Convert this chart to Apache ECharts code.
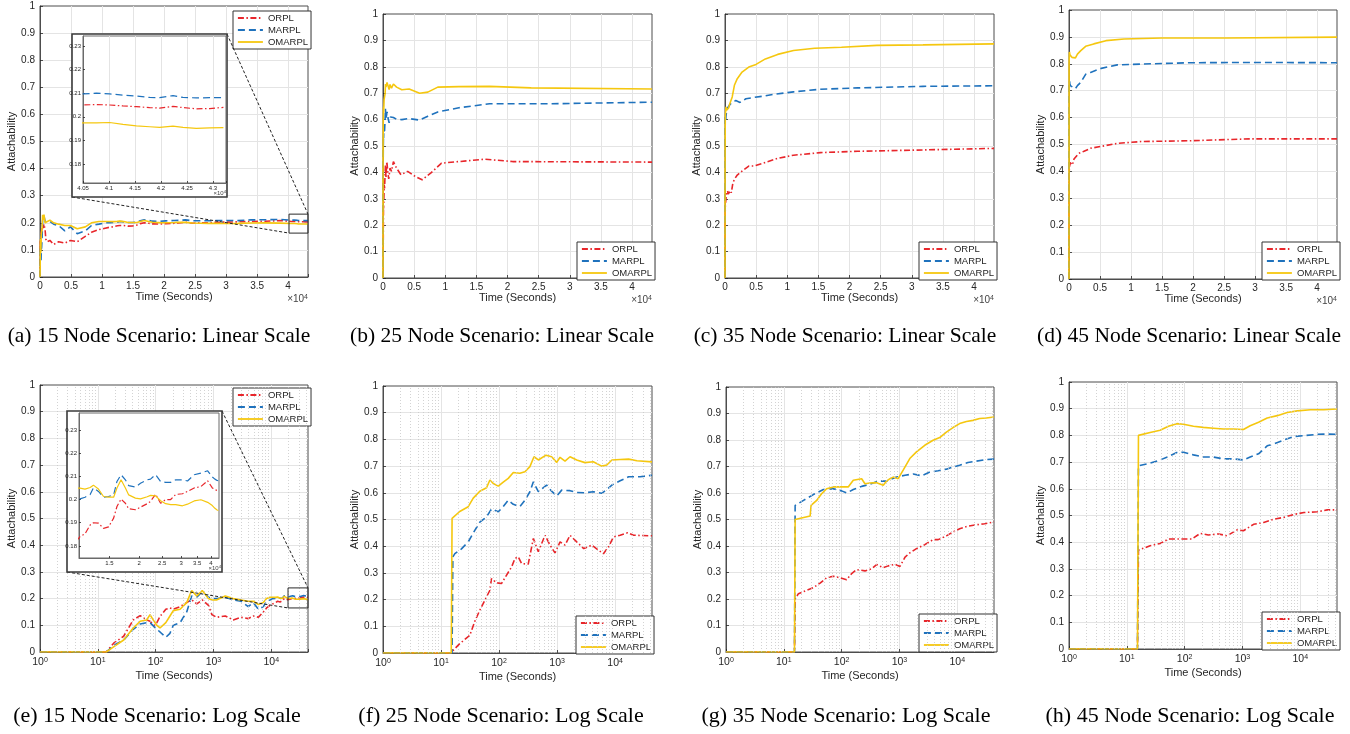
<!DOCTYPE html>
<html><head><meta charset="utf-8">
<script src="https://cdn.jsdelivr.net/npm/echarts@6/dist/echarts.min.js"></script>
<style>html,body{margin:0;padding:0;background:#fff}#c{width:1350px;height:734px}</style>
</head><body><div id="c"></div>
<script>
// ================= DATA =================
const SERIES_NAMES = ['ORPL', 'MARPL', 'OMARPL'];
const CAPTIONS = [
  '(a) 15 Node Scenario: Linear Scale', '(b) 25 Node Scenario: Linear Scale',
  '(c) 35 Node Scenario: Linear Scale', '(d) 45 Node Scenario: Linear Scale',
  '(e) 15 Node Scenario: Log Scale', '(f) 25 Node Scenario: Log Scale',
  '(g) 35 Node Scenario: Log Scale', '(h) 45 Node Scenario: Log Scale'
];
const Y_TICKS = [0, 0.1, 0.2, 0.3, 0.4, 0.5, 0.6, 0.7, 0.8, 0.9, 1];
const INSET_Y_TICKS = [0.18, 0.19, 0.2, 0.21, 0.22, 0.23];
const INSET_A_X_TICKS = [40500, 41000, 41500, 42000, 42500, 43000];
const INSET_E_X_TICKS = [15000, 20000, 25000, 30000, 35000, 40000];

// 15 nodes (shared time axis, seconds)
const T15 = [1, 14, 19, 28, 41, 54, 70, 80, 94, 105, 119, 150, 177, 202, 265, 345, 420, 514, 640, 820,
  940, 1130, 1600, 2200, 3000, 4000, 4900, 6000, 7300, 8300, 9500, 10500,
  11310, 11870, 12470, 12870, 13510, 14190, 14890, 15640, 16150, 16800, 17520, 18090, 19290, 20260,
  21620, 22320, 23440, 24600, 25830, 27110, 28460, 30370, 31890, 34000, 36290, 38720,
  40500, 40756, 41013, 41269, 41526, 41782, 41974, 42231, 42423, 42679, 42936, 43200];
const ORPL15 = [0, 0, .034, .059, .12, .136, .12, .115, .10, .11, .133, .16, .165, .16, .17, .185, .196, .18, .195, .175,
  .14, .13, .135, .12, .13, .125, .135, .13, .15, .165, .175, .18,
  .184, .1852, .189, .19, .1898, .1876, .1882, .192, .197, .2002, .1984, .196, .1956, .1967,
  .1982, .1992, .2023, .1984, .2, .2, .2022, .2025, .2035, .205, .2056, .2081,
  .205, .2052, .205, .2046, .2043, .2039, .2037, .2044, .2039, .2034, .2035, .204];
const MARPL15 = [0, 0, .025, .045, .085, .105, .11, .11, .095, .085, .075, .055, .07, .10, .11, .15, .21, .205, .225, .205,
  .20, .20, .205, .195, .19, .17, .185, .16, .17, .19, .195, .20,
  .2003, .201, .2022, .205, .2035, .201, .2013, .202, .2078, .2107, .2085, .206, .2054, .207,
  .2085, .2088, .2107, .2078, .2074, .2074, .2085, .2085, .208, .2107, .2114, .2124,
  .2097, .21, .2097, .2092, .2088, .2082, .2081, .209, .2082, .208, .2081, .2081];
const OMARPL15 = [0, 0, .02, .045, .09, .115, .12, .14, .115, .10, .09, .11, .135, .155, .16, .185, .23, .21, .23, .20,
  .195, .195, .21, .20, .195, .19, .19, .178, .185, .20, .205, .205,
  .2049, .2045, .2052, .2062, .2045, .2013, .201, .201, .205, .2085, .205, .202, .2006, .2003,
  .2012, .2018, .2016, .1995, .1982, .1978, .1978, .1973, .198, .1994, .1999, .1988,
  .1974, .1974, .1976, .1968, .1962, .1958, .1955, .1961, .1955, .1951, .1953, .1954];

// 25 nodes
const T25_ORPL = [1, 15, 16.2, 21, 31.3, 38.4, 46.6, 57, 69.5, 74, 90.5, 110, 134, 165, 188, 214, 245, 318, 390, 475,
  620, 755, 920, 1125, 1370, 1670, 2180, 2880, 3960, 5170, 6290, 7700, 9400, 12200, 16400, 20800, 43200];
const ORPL25 = [0, 0, .01, .035, .066, .12, .16, .198, .235, .279, .263, .26, .291, .323, .354, .36, .335, .333, .429, .379,
  .441, .404, .375, .416, .404, .441, .416, .391, .404, .385, .372, .398, .435, .441, .45, .441, .439];
const T25_MARPL = [1, 15.5, 16, 17.3, 22.5, 29.4, 38.4, 46.6, 60.9, 74, 97, 118, 144, 176, 228, 279, 340, 390, 475,
  660, 805, 985, 1200, 1670, 2180, 3020, 4200, 5880, 7200, 8800, 12200, 17100, 27000, 43200];
const MARPL25 = [0, 0, .36, .372, .39, .416, .46, .49, .51, .539, .529, .548, .572, .557, .548, .572, .604, .641, .604,
  .629, .606, .588, .61, .608, .601, .60, .604, .598, .613, .629, .645, .66, .66, .666];
const T25_OMARPL = [1, 15, 15.5, 16.2, 21, 29.4, 35.9, 46.6, 60.9, 69.5, 79.4, 97, 118, 144, 176, 228, 279, 340, 400, 475,
  645, 805, 985, 1125, 1370, 1670, 2180, 3020, 4200, 5880, 7200, 8800, 12200, 17100, 23800, 43200];
const OMARPL25 = [0, 0, .504, .51, .53, .548, .58, .606, .619, .648, .635, .625, .64, .654, .676, .673, .679, .698, .735, .723,
  .741, .735, .714, .733, .719, .735, .723, .713, .716, .70, .704, .723, .725, .726, .72, .716];

// 35 nodes
const T35_ORPL = [1, 15.3, 15.7, 17.9, 25, 32.4, 42.4, 55, 72, 94, 122, 149, 182, 253, 330, 403, 525, 640, 835, 1020,
  1250, 1510, 1970, 2740, 3820, 4680, 6490, 8460, 11000, 15300, 21300, 29700, 43200];
const ORPL35 = [0, 0, .2, .22, .233, .243, .26, .28, .286, .28, .273, .296, .311, .306, .314, .33, .318, .325, .331, .323,
  .358, .374, .39, .405, .424, .424, .438, .453, .465, .475, .48, .484, .491];
const T35_MARPL = [1, 15.3, 15.7, 21.9, 32.4, 48.4, 72, 100, 122, 159, 222, 309, 430, 600, 890, 1250, 1730, 2410, 3360,
  4680, 6490, 7900, 11000, 15300, 21300, 31800, 43200];
const MARPL35 = [0, 0, .553, .572, .594, .613, .616, .608, .60, .613, .625, .633, .645, .645, .66, .667, .672, .665, .679,
  .684, .69, .696, .705, .715, .72, .726, .728];
const T35_OMARPL = [1, 15.3, 15.7, 28.5, 29.6, 37, 45, 55, 72, 94, 130, 159, 222, 253, 309, 403, 525, 600, 685, 780,
  950, 1160, 1510, 1970, 2740, 3820, 4980, 6490, 8460, 11000, 14400, 18700, 24400, 31800, 43200];
const OMARPL35 = [0, 0, .5, .513, .553, .572, .597, .616, .623, .623, .623, .648, .654, .635, .638, .639, .629, .645, .654, .66,
  .654, .686, .73, .755, .78, .799, .809, .83, .847, .862, .87, .874, .881, .883, .887];

// 45 nodes
const T45_ORPL = [1, 15.3, 15.9, 25.3, 37.7, 52.5, 83.8, 133, 186, 257, 385, 540, 806, 1040, 1560, 2330, 3480, 5200,
  7770, 11600, 19600, 29200, 43200];
const ORPL45 = [0, 0, .37, .387, .395, .412, .412, .412, .433, .427, .431, .424, .446, .443, .467, .474, .486, .493,
  .504, .511, .514, .521, .521];
const T45_MARPL = [1, 15.3, 15.9, 25.3, 37.7, 52.5, 73.3, 95.5, 142, 211, 315, 469, 700, 1040, 1360, 1900, 2680, 3480,
  5200, 7770, 11600, 19600, 29200, 43200];
const MARPL45 = [0, 0, .686, .696, .708, .721, .736, .737, .727, .719, .719, .712, .712, .708, .719, .731, .761, .768,
  .783, .796, .799, .804, .805, .804];
const T45_OMARPL = [1, 15.3, 15.9, 25.3, 37.7, 52.5, 73.3, 95.5, 142, 211, 315, 469, 700, 1040, 1360, 1900, 2680, 3990,
  5950, 8870, 15000, 25400, 43200];
const OMARPL45 = [0, 0, .80, .811, .819, .834, .844, .842, .834, .83, .827, .824, .824, .822, .836, .849, .865, .874,
  .886, .892, .896, .896, .899];

// zoom boxes on the main plots (data coords)
const BOX_A_X = [40140, 43200], BOX_A_Y = [0.162, 0.232];
const BOX_E_X = [19500, 43200], BOX_E_Y = [0.165, 0.24];

// ================= STYLE / LAYOUT =================
const FONT = '"Liberation Sans", Arial, Helvetica, sans-serif';
const TXT = '#262626';
const STYLE = {
  ORPL: { color: '#e8262b', dash: [6, 2.5, 1.5, 2.5] },
  MARPL: { color: '#1f72bd', dash: [7, 4] },
  OMARPL: { color: '#f5c70f', dash: 'solid' }
};
const SCEN = [
  { ORPL: [T15, ORPL15], MARPL: [T15, MARPL15], OMARPL: [T15, OMARPL15] },
  { ORPL: [T25_ORPL, ORPL25], MARPL: [T25_MARPL, MARPL25], OMARPL: [T25_OMARPL, OMARPL25] },
  { ORPL: [T35_ORPL, ORPL35], MARPL: [T35_MARPL, MARPL35], OMARPL: [T35_OMARPL, OMARPL35] },
  { ORPL: [T45_ORPL, ORPL45], MARPL: [T45_MARPL, MARPL45], OMARPL: [T45_OMARPL, OMARPL45] }
];
const PANELS = [
  { box: [40, 6, 308, 277], log: false, sc: 0, leg: [233, 11], cap: [159, 336] },
  { box: [383, 14, 652, 278], log: false, sc: 1, leg: [577, 242], cap: [502, 336] },
  { box: [725, 14, 994, 278], log: false, sc: 2, leg: [919, 242], cap: [845, 336] },
  { box: [1069, 10, 1337, 279], log: false, sc: 3, leg: [1262, 242], cap: [1189, 336] },
  { box: [40, 385, 308, 652], log: true, sc: 0, leg: [233, 388], cap: [157, 716] },
  { box: [383, 386, 652, 653], log: true, sc: 1, leg: [576, 616], cap: [501, 716] },
  { box: [726, 387, 994, 652], log: true, sc: 2, leg: [919, 614], cap: [846, 716] },
  { box: [1069, 382, 1337, 649], log: true, sc: 3, leg: [1262, 612], cap: [1190, 716] }
];
const INSETS = [
  { main: 0, box: [83, 36, 226, 183], frame: [72, 34, 227, 197], log: false, xmin: 40500, xmax: 43250, ymin: 0.172, ymax: 0.2342 },
  { main: 4, box: [79, 413, 219, 558], frame: [67, 411, 222, 572], log: true, xmin: 11200, xmax: 43200, ymin: 0.1748, ymax: 0.2373 }
];

const zip = (t, v) => t.map((x, i) => [x, v[i]]);
const MINOR_LOG = [];
for (let d = 0; d <= 4; d++) for (let k = 2; k <= 9; k++) { const v = k * Math.pow(10, d); if (v < 43200) MINOR_LOG.push(v); }
const INSET_E_MINOR = [];
for (let v = 12000; v <= 43000; v += 1000) if (v % 5000 !== 0) INSET_E_MINOR.push(v);

const option = { animation: false, backgroundColor: '#fff', grid: [], xAxis: [], yAxis: [], series: [], legend: [], graphic: { elements: [] } };
const G = option.graphic.elements;

function tickStyle(len) { return { show: true, inside: true, length: len, lineStyle: { color: TXT, width: 0.8 } }; }
function lineSeries(name, gi, pts, extra) {
  const st = STYLE[name];
  return Object.assign({
    type: 'line', name, xAxisIndex: gi, yAxisIndex: gi, data: pts, symbol: 'none', showSymbol: false,
    lineStyle: { color: st.color, width: 1.6, type: st.dash }, itemStyle: { color: st.color },
    emphasis: { disabled: true }, z: 3
  }, extra || {});
}
function supText(id, x, y, base, sup, fs, extra) {
  return Object.assign({
    type: 'text', id, x, y, silent: true,
    style: { text: '{a|' + base + '}{s|' + sup + '}', align: 'right', verticalAlign: 'middle',
      rich: { a: { fontSize: fs, fontFamily: FONT, fill: '#444', verticalAlign: 'bottom' },
              s: { fontSize: fs * 0.7, fontFamily: FONT, fill: '#444', verticalAlign: 'top' } } }
  }, extra || {});
}

PANELS.forEach((p, i) => {
  const [l, t, r, b] = p.box;
  option.grid.push({ left: l, top: t, width: r - l, height: b - t, show: true, borderColor: '#4d4d4d', borderWidth: 1,
    backgroundColor: 'rgba(0,0,0,0)', containLabel: false, outerBoundsMode: 'none' });
  const xa = {
    gridIndex: i, min: p.log ? 1 : 0, max: 43200,
    axisLine: { show: true, onZero: false, lineStyle: { color: '#4d4d4d', width: 1 } },
    axisTick: tickStyle(3),
    splitLine: { show: true, showMinLine: false, showMaxLine: false, lineStyle: { color: '#e4e4e4', width: 1 } },
    name: 'Time (Seconds)', nameLocation: 'middle', nameGap: p.log ? 18 : 13,
    nameTextStyle: { fontSize: 11, color: TXT, fontFamily: FONT }
  };
  if (p.log) {
    Object.assign(xa, { type: 'log', logBase: 10, splitNumber: 5,
      axisLabel: { margin: 5, color: TXT, fontFamily: FONT,
        formatter: v => { const e = Math.log10(v), rr = Math.round(e); return Math.abs(e - rr) < 1e-6 ? '{b|10}{s|' + rr + '}' : ''; },
        rich: { b: { fontSize: 10.5, color: TXT, fontFamily: FONT, verticalAlign: 'bottom' },
                s: { fontSize: 7, color: TXT, fontFamily: FONT, verticalAlign: 'top' } } } });
  } else {
    Object.assign(xa, { type: 'value', interval: 5000,
      axisLabel: { margin: 4, fontSize: 10, color: TXT, fontFamily: FONT,
        formatter: v => (v % 5000 === 0 ? String(v / 1e4) : '') } });
    G.push(supText('exp' + i, r, b + 22, '×10', '4', 10));
  }
  option.xAxis.push(xa);
  option.yAxis.push({
    gridIndex: i, type: 'value', min: 0, max: 1, interval: 0.1,
    axisLine: { show: true, lineStyle: { color: '#4d4d4d', width: 1 } },
    axisTick: tickStyle(3),
    axisLabel: { margin: 5, fontSize: 10, color: TXT, fontFamily: FONT, formatter: v => String(+v.toFixed(1)) },
    splitLine: { show: true, showMinLine: false, showMaxLine: false, lineStyle: { color: '#e4e4e4', width: 1 } },
    name: 'Attachability', nameLocation: 'middle', nameGap: 20, nameRotate: 90,
    nameTextStyle: { fontSize: 11, color: TXT, fontFamily: FONT }
  });
  if (p.log) {
    option.series.push({ type: 'line', xAxisIndex: i, yAxisIndex: i, data: [], silent: true, symbol: 'none', z: 1,
      lineStyle: { width: 0 },
      markLine: { silent: true, animation: false, symbol: ['none', 'none'], label: { show: false }, emphasis: { disabled: true },
        lineStyle: { color: '#c8c8c8', type: [1, 2], width: 0.8 },
        data: MINOR_LOG.map(v => ({ xAxis: v })) } });
  }
  const sc = SCEN[p.sc];
  SERIES_NAMES.forEach(n => option.series.push(lineSeries(n, i, zip(sc[n][0], sc[n][1]))));
  option.legend.push({
    data: SERIES_NAMES, orient: 'vertical', left: p.leg[0], top: p.leg[1], selectedMode: false,
    itemWidth: 25, itemHeight: 8, itemGap: 2, padding: [2, 3, 2, 4],
    borderColor: '#333', borderWidth: 1, borderRadius: 0, backgroundColor: '#fff',
    itemStyle: { color: 'rgba(0,0,0,0)', borderWidth: 0, opacity: 0 },
    lineStyle: { width: 1.8 },
    textStyle: { fontSize: 9.5, color: TXT, fontFamily: FONT }
  });
  G.push({ type: 'text', id: 'cap' + i, x: p.cap[0], y: p.cap[1], silent: true,
    style: { text: CAPTIONS[i], fontFamily: '"Liberation Serif", "Times New Roman", serif', fontSize: i < 4 ? 21.5 : 22, fill: '#000',
      align: 'center', verticalAlign: 'middle' } });
});

// zoom boxes on main plots
[[0, BOX_A_X, BOX_A_Y], [4, BOX_E_X, BOX_E_Y]].forEach(([gi, bx, by]) => {
  option.series.push({ type: 'line', xAxisIndex: gi, yAxisIndex: gi, silent: true, symbol: 'none', clip: false, z: 5,
    lineStyle: { color: '#2a2a2a', width: 1 }, emphasis: { disabled: true },
    data: [[bx[0], by[0]], [bx[1], by[0]], [bx[1], by[1]], [bx[0], by[1]], [bx[0], by[0]]] });
});

// insets
INSETS.forEach((s, k) => {
  const gi = 8 + k;
  const [l, t, r, b] = s.box;
  const [fl, ft, fr, fb] = s.frame;
  G.push({ type: 'rect', id: 'frame' + k, zlevel: 1, z: 1, silent: true,
    shape: { x: fl, y: ft, width: fr - fl, height: fb - ft },
    style: { fill: '#fff', stroke: '#3a3a3a', lineWidth: 1.6 } });
  option.grid.push({ left: l, top: t, width: r - l, height: b - t, show: true, borderColor: '#6a6a6a', borderWidth: 1,
    backgroundColor: 'rgba(0,0,0,0)', zlevel: 1, z: 2, containLabel: false, outerBoundsMode: 'none' });
  const xa = { gridIndex: gi, min: s.xmin, max: s.xmax, zlevel: 1, z: 2,
    axisLine: { show: true, onZero: false, lineStyle: { color: '#6a6a6a', width: 1 } },
    axisTick: tickStyle(2) };
  if (s.log) {
    Object.assign(xa, { type: 'log', logBase: 10,
      axisTick: Object.assign(tickStyle(2), { customValues: INSET_E_X_TICKS }),
      axisLabel: { customValues: INSET_E_X_TICKS, margin: 2, fontSize: 6, color: TXT, fontFamily: FONT, formatter: v => String(+(v / 1e4).toFixed(2)) },
      splitLine: { show: false } });
  } else {
    Object.assign(xa, { type: 'value', interval: 500,
      axisLabel: { margin: 2, fontSize: 6, color: TXT, fontFamily: FONT,
        formatter: v => (v % 500 === 0 && v <= 43000 ? String(+(v / 1e4).toFixed(2)) : '') },
      splitLine: { show: true, showMinLine: false, showMaxLine: false, lineStyle: { color: '#e4e4e4', width: 1 } } });
  }
  option.xAxis.push(xa);
  option.yAxis.push({ gridIndex: gi, type: 'value', min: s.ymin, max: s.ymax, zlevel: 1, z: 2,
    axisLine: { show: true, lineStyle: { color: '#6a6a6a', width: 1 } },
    axisTick: Object.assign(tickStyle(2), { customValues: INSET_Y_TICKS }),
    axisLabel: { customValues: INSET_Y_TICKS, margin: 2, fontSize: 6, color: TXT, fontFamily: FONT, formatter: v => String(+v.toFixed(2)) },
    splitLine: { show: false } });
  const ml = INSET_Y_TICKS.map(v => ({ yAxis: v }));
  if (s.log) {
    INSET_E_X_TICKS.forEach(v => ml.push({ xAxis: v }));
    INSET_E_MINOR.forEach(v => ml.push({ xAxis: v, lineStyle: { type: [1, 2], color: '#c8c8c8', width: 0.8 } }));
  }
  option.series.push({ type: 'line', xAxisIndex: gi, yAxisIndex: gi, data: [], silent: true, symbol: 'none', zlevel: 1, z: 3,
    lineStyle: { width: 0 },
    markLine: { silent: true, animation: false, symbol: ['none', 'none'], label: { show: false }, emphasis: { disabled: true },
      lineStyle: { color: '#e4e4e4', type: 'solid', width: 1 }, data: ml } });
  const sc = SCEN[0];
  SERIES_NAMES.forEach(n => option.series.push(lineSeries(n, gi, zip(sc[n][0], sc[n][1]), { zlevel: 1, z: 4, lineStyle: { color: STYLE[n].color, width: 1.2, type: STYLE[n].dash } })));
  G.push(supText('iexp' + k, fr - 1, fb - 4, '×10', '4', 6, { zlevel: 1, z: 6 }));
});

const chart = echarts.init(document.getElementById('c'), null, { renderer: 'canvas' });
chart.setOption(option);

// dashed connectors from inset frames to zoom boxes
const conn = [];
[[0, BOX_A_X, BOX_A_Y, INSETS[0].frame], [4, BOX_E_X, BOX_E_Y, INSETS[1].frame]].forEach(([gi, bx, by, f], k) => {
  const tr = chart.convertToPixel({ gridIndex: gi }, [bx[1], by[1]]);
  const bl = chart.convertToPixel({ gridIndex: gi }, [bx[0], by[0]]);
  conn.push({ type: 'line', id: 'c1_' + k, silent: true, z: 10, shape: { x1: f[2], y1: f[1], x2: tr[0], y2: tr[1] },
    style: { stroke: '#222', lineWidth: 1, lineDash: [3, 2] } });
  conn.push({ type: 'line', id: 'c2_' + k, silent: true, z: 10, shape: { x1: f[0], y1: f[3], x2: bl[0], y2: bl[1] },
    style: { stroke: '#222', lineWidth: 1, lineDash: [3, 2] } });
});
chart.setOption({ graphic: { elements: conn } });
</script></body></html>
